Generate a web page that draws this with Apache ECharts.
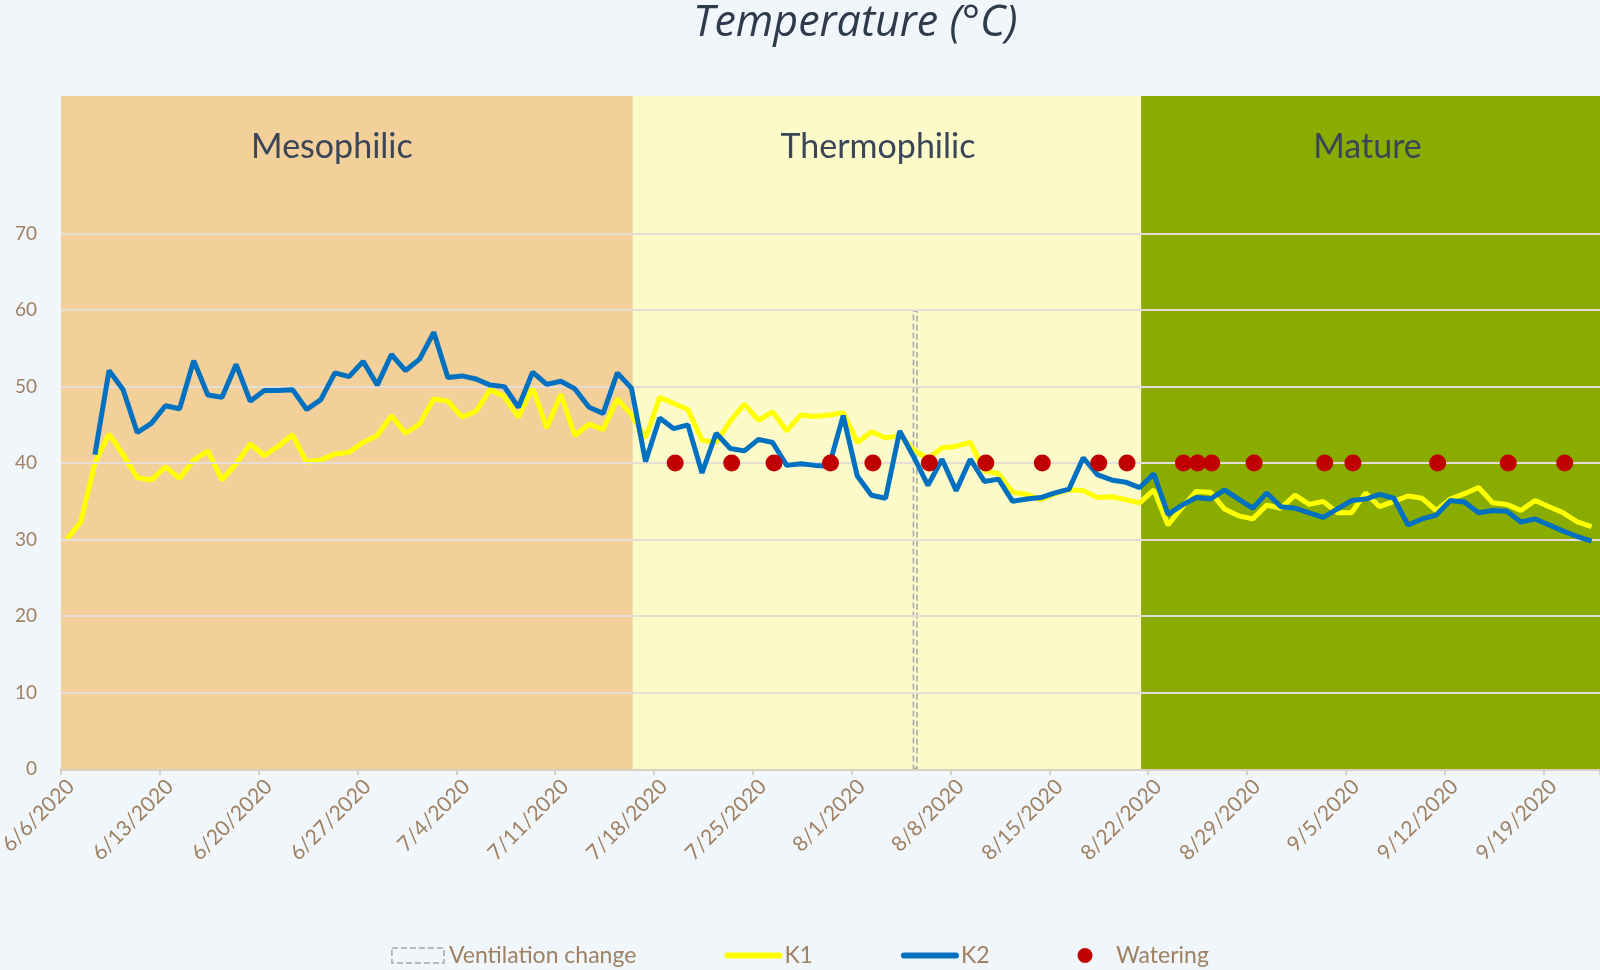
<!DOCTYPE html>
<html>
<head>
<meta charset="utf-8">
<title>Temperature</title>
<script src="https://cdn.jsdelivr.net/npm/echarts@6/dist/echarts.min.js"></script>
<style>
  html, body { margin: 0; padding: 0; background: #f1f6fb; }
  #chart { width: 1600px; height: 970px; }
</style>
</head>
<body>
<div id="chart"></div>
<script>
// days are counted from 6/6/2020
const tickLabels = ['6/6/2020', '6/13/2020', '6/20/2020', '6/27/2020', '7/4/2020', '7/11/2020',
  '7/18/2020', '7/25/2020', '8/1/2020', '8/8/2020', '8/15/2020', '8/22/2020', '8/29/2020',
  '9/5/2020', '9/12/2020', '9/19/2020'];
const yTicks = [0, 10, 20, 30, 40, 50, 60, 70];

const phaseNames = ['Mesophilic', 'Thermophilic', 'Mature'];
const phaseStart = [0, 40.5, 76.5];
const phaseEnd = [40.5, 76.5, 109];

// daily readings (~10:00), K1 from day 0, K2 from day 2
const readHour = 0.4;
const k1Start = 0;
const k1 = [30.0, 32.3, 40.0, 43.8, 41.1, 38.1, 37.8, 39.5, 38.0, 40.4,
  41.6, 37.8, 39.9, 42.5, 41.0, 42.2, 43.7, 40.1, 40.4, 41.2,
  41.4, 42.7, 43.6, 46.2, 43.9, 45.1, 48.4, 48.1, 46.0, 46.8,
  49.6, 48.7, 46.0, 49.9, 44.6, 49.0, 43.6, 45.1, 44.4, 48.4,
  46.3, 43.3, 48.6, 47.8, 47.0, 43.0, 42.7, 45.5, 47.7, 45.6,
  46.7, 44.2, 46.3, 46.1, 46.3, 46.6, 42.7, 44.1, 43.3, 43.6,
  41.7, 40.6, 42.0, 42.2, 42.7, 39.0, 38.6, 36.2, 35.9, 35.2,
  36.0, 36.5, 36.4, 35.5, 35.6, 35.2, 34.8, 36.5, 31.9, 34.2,
  36.3, 36.2, 34.0, 33.1, 32.7, 34.5, 34.1, 35.8, 34.6, 35.0,
  33.5, 33.5, 36.1, 34.3, 35.0, 35.7, 35.4, 33.8, 35.3, 36.0,
  36.8, 34.8, 34.6, 33.8, 35.1, 34.3, 33.5, 32.3, 31.7];
const k2Start = 2;
const k2 = [41.1, 52.1, 49.6, 44.0, 45.2, 47.5, 47.1, 53.4, 48.9,
  48.6, 52.9, 48.1, 49.5, 49.5, 49.6, 47.0, 48.3, 51.8, 51.3,
  53.3, 50.2, 54.2, 52.1, 53.6, 57.1, 51.2, 51.4, 51.0, 50.2,
  50.0, 47.3, 51.9, 50.3, 50.7, 49.7, 47.3, 46.5, 51.8, 49.8,
  40.2, 45.9, 44.5, 45.0, 38.7, 43.9, 41.9, 41.6, 43.1, 42.7,
  39.7, 39.9, 39.7, 39.6, 46.2, 38.3, 35.8, 35.4, 44.2, 40.8,
  37.1, 40.5, 36.4, 40.5, 37.6, 37.9, 35.0, 35.3, 35.5, 36.1,
  36.6, 40.7, 38.5, 37.8, 37.5, 36.8, 38.6, 33.3, 34.5, 35.5,
  35.3, 36.5, 35.3, 34.1, 36.1, 34.3, 34.1, 33.5, 32.9, 34.0,
  35.1, 35.3, 35.9, 35.4, 31.9, 32.7, 33.2, 35.1, 34.9, 33.5,
  33.8, 33.7, 32.3, 32.7, 31.9, 31.1, 30.4, 29.8];

const wateringDays = [43, 47, 50, 54, 57, 61, 65, 69, 73, 75, 79, 80, 81, 84, 89, 91, 97, 102, 106];
const wateringLevel = 40;
const ventDay = 60.5;
const ventLevel = 60;

const txt = '#9e8163';
const font = 'Lato';

let chart = echarts.init(document.getElementById('chart'));

let options = {
  backgroundColor: '#f1f6fb',
  textStyle: { fontFamily: font },
  title: {
    text: 'Temperature (°C)',
    left: 688,
    top: -3,
    textStyle: { fontFamily: 'Open Sans', fontStyle: 'italic', fontWeight: 'normal', fontSize: 43, color: '#2f3a4c' },
  },
  grid: { left: 61, right: 0, top: 96, bottom: 201, outerBoundsMode: 'none', containLabel: false },
  legend: {
    top: 939,
    left: 'center',
    itemWidth: 52,
    itemHeight: 15,
    itemGap: 88,
    textStyle: { color: txt, fontSize: 23, fontFamily: font },
    data: [
      {
        name: 'Ventilation change',
        icon: 'rect',
        itemStyle: { color: 'rgba(0,0,0,0)', borderColor: '#a6a6a6', borderType: 'dashed', borderWidth: 1.5 },
      },
      { name: 'K1', itemStyle: { color: 'rgba(0,0,0,0)', borderWidth: 0 }, lineStyle: { width: 6, cap: 'round' } },
      { name: 'K2', itemStyle: { color: 'rgba(0,0,0,0)', borderWidth: 0 }, lineStyle: { width: 6, cap: 'round' } },
      { name: 'Watering', icon: 'circle' },
    ],
  },
  xAxis: {
    type: 'value',
    min: 0,
    max: 109,
    interval: 7,
    axisLine: { lineStyle: { color: '#d9d0c4', width: 3 } },
    axisTick: { length: 6, lineStyle: { color: '#d9d0c4', width: 2 } },
    splitLine: { show: false },
    axisLabel: {
      rotate: 45,
      margin: 24,
      padding: [0, -14, 0, 0],
      color: txt,
      fontSize: 21,
      fontFamily: font,
      formatter: (v) => (v % 7 === 0 && tickLabels[v / 7]) || '',
    },
  },
  yAxis: {
    type: 'value',
    min: 0,
    max: 88,
    interval: 10,
    axisLine: { show: false },
    axisTick: { show: false },
    splitLine: { show: false },
    axisLabel: {
      margin: 24,
      color: txt,
      fontSize: 19,
      fontFamily: font,
      formatter: (v) => (yTicks.includes(v) ? String(v) : ''),
    },
  },
  series: [
    {
      name: 'phases',
      type: 'line',
      data: [],
      z: 1,
      silent: true,
      markArea: {
        silent: true,
        label: {
          position: 'insideTop',
          distance: 34,
          fontSize: 34,
          fontFamily: font,
          color: '#3a4558',
        },
        data: phaseNames.map((name, i) => [
          {
            name,
            xAxis: phaseStart[i],
            itemStyle: { color: ['#f3cf9a', '#fcfac9', '#8aab00'][i] },
            label: { offset: [[-15, 0], [-9, 0], [-3, 0]][i] },
          },
          { xAxis: phaseEnd[i] },
        ]),
      },
    },
    {
      name: 'grid',
      type: 'line',
      data: [],
      z: 2,
      silent: true,
      markLine: {
        silent: true,
        symbol: 'none',
        label: { show: false },
        lineStyle: { color: '#e4ded6', width: 2, type: 'solid' },
        data: yTicks.filter((v) => v > 0).map((v) => ({ yAxis: v })),
      },
    },
    {
      name: 'Ventilation change',
      type: 'bar',
      z: 3,
      barWidth: 5,
      itemStyle: { color: 'rgba(0,0,0,0)', borderColor: '#a6a6a6', borderType: 'dashed', borderWidth: 1.5 },
      data: [[ventDay, ventLevel]],
    },
    {
      name: 'K1',
      type: 'line',
      z: 4,
      showSymbol: false,
      symbol: 'none',
      lineStyle: { color: '#ffff00', width: 5 },
      itemStyle: { color: '#ffff00' },
      data: k1.map((v, i) => [k1Start + i + readHour, v]),
    },
    {
      name: 'K2',
      type: 'line',
      z: 5,
      showSymbol: false,
      symbol: 'none',
      lineStyle: { color: '#0070c0', width: 5 },
      itemStyle: { color: '#0070c0' },
      data: k2.map((v, i) => [k2Start + i + readHour, v]),
    },
    {
      name: 'Watering',
      type: 'scatter',
      z: 6,
      symbolSize: 17,
      itemStyle: { color: '#c00000', opacity: 1 },
      data: wateringDays.map((d) => [d + 0.5, wateringLevel]),
    },
  ],
};

chart.setOption(options);
</script>
</body>
</html>
